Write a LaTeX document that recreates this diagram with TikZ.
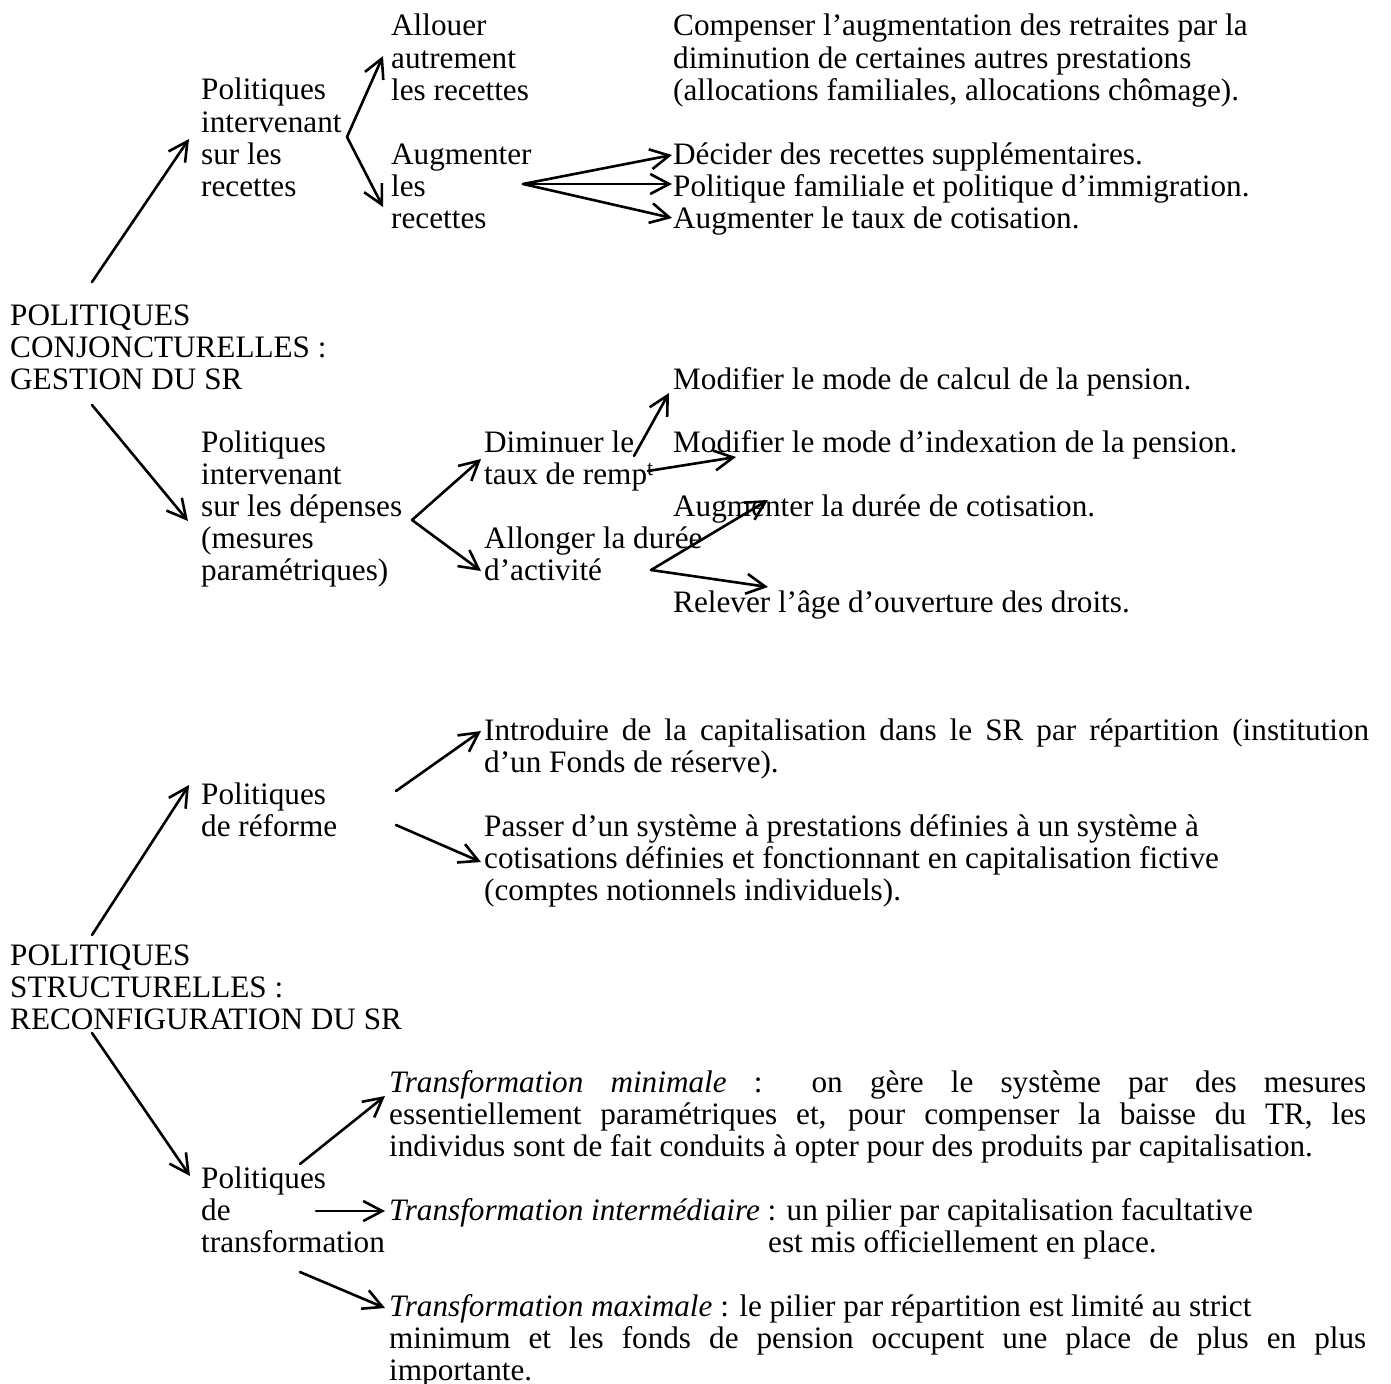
\documentclass[tikz,border=0pt]{standalone}
\usepackage{fontspec}
\setmainfont{Liberation Serif}
\usetikzlibrary{arrows.meta}
\setlength{\parindent}{0pt}
% one justified line stretched to a given width
\newcommand{\jline}[2]{\makebox[#1][s]{#2}}

\begin{document}
\begin{tikzpicture}[x=1pt,y=-1pt,
  % nodes are placed by the baseline of their last line
  txt/.style={anchor=base west, inner sep=0pt, align=left,
              font=\fontsize{31.2}{32.1}\selectfont},
  arr/.style={line width=2.6pt, line cap=round,
              -{Straight Barb[length=19pt,width=20pt,line width=2.6pt]}}]
\useasboundingbox (0,0) rectangle (1391,1383);

% ---- cyclical policies
\node[txt] (conj) at (10,389.2) {POLITIQUES\\CONJONCTURELLES :\\GESTION DU SR};
\node[txt] (prec) at (201,196.3) {Politiques\\intervenant\\sur les\\recettes};
\node[txt] (alloc) at (391,100.2) {Allouer\\autrement\\les recettes};
\node[txt] (augr) at (391,228.4) {Augmenter\\les\\recettes};
\node[txt] (comp) at (673,100.2) {Compenser l’augmentation des retraites par la\\diminution de certaines autres prestations\\(allocations familiales, allocations chômage).};
\node[txt] (dec) at (673,164.2) {Décider des recettes supplémentaires.};
\node[txt] (fam) at (673,196.3) {Politique familiale et politique d’immigration.};
\node[txt] (taux) at (673,228.4) {Augmenter le taux de cotisation.};
\node[txt] (calc) at (673,389) {Modifier le mode de calcul de la pension.};
\node[txt] (pdep) at (201,580.9) {Politiques\\intervenant\\sur les dépenses\\(mesures\\paramétriques)};
\node[txt] (dimi) at (484,484.6) {Diminuer le\\taux de remp\textsuperscript{t}};
\node[txt] (index) at (673,452.5) {Modifier le mode d’indexation de la pension.};
\node[txt] (duree) at (673,516.5) {Augmenter la durée de cotisation.};
\node[txt] (allong) at (484,580.6) {Allonger la durée\\d’activité};
\node[txt] (relev) at (673,612.5) {Relever l’âge d’ouverture des droits.};

% ---- structural policies
\node[txt] (intro) at (484,772.6) {\jline{885pt}{Introduire de la capitalisation dans le SR par répartition (institution}\\d’un Fonds de réserve).};
\node[txt] (pref) at (201,836.6) {Politiques\\de réforme};
\node[txt] (passer) at (484,900.7) {Passer d’un système à prestations définies à un système à\\cotisations définies et fonctionnant en capitalisation fictive\\(comptes notionnels individuels).};
\node[txt] (struct) at (10,1029.2) {POLITIQUES\\STRUCTURELLES :\\RECONFIGURATION DU SR};
\node[txt] (tmin) at (389,1156.2) {\jline{977pt}{\textit{Transformation minimale} : on gère le système par des mesures}\\\jline{977pt}{essentiellement paramétriques et, pour compenser la baisse du TR, les}\\individus sont de fait conduits à opter pour des produits par capitalisation.};
\node[txt] (tpol) at (201,1252.7) {Politiques\\de\\transformation};
\node[txt] (tint) at (389,1252.6) {\textit{Transformation intermédiaire} : un pilier par capitalisation facultative\\\hspace*{379pt}est mis officiellement en place.};
\node[txt] (tmax) at (389,1380.7) {\textit{Transformation maximale} : le pilier par répartition est limité au strict\\\jline{977pt}{minimum et les fonds de pension occupent une place de plus en plus}\\importante.};

% ---- connector ends
\coordinate (conj-up) at (92,282);
\coordinate (prec-in) at (189,139);
\coordinate (conj-down) at (92,405);
\coordinate (pdep-in) at (188,521);
\coordinate (prec-out) at (347,137);
\coordinate (alloc-in) at (383,56);
\coordinate (augr-in) at (383,207);
\coordinate (augr-out) at (523,184);
\coordinate (dec-in) at (672,155);
\coordinate (fam-in) at (672,184);
\coordinate (taux-in) at (672,218);
\coordinate (pdep-out) at (412,520);
\coordinate (dimi-in) at (481,459);
\coordinate (allong-in) at (481,571);
\coordinate (dimi-up) at (634,456);
\coordinate (calc-in) at (669,393);
\coordinate (dimi-right) at (648,471);
\coordinate (index-in) at (736,457);
\coordinate (allong-out) at (651,570);
\coordinate (duree-in) at (768,500);
\coordinate (relev-in) at (768,587);
\coordinate (pref-up) at (396,791);
\coordinate (intro-in) at (481,731);
\coordinate (pref-down) at (396,825);
\coordinate (passer-in) at (481,862);
\coordinate (struct-up) at (92,935);
\coordinate (pref-in) at (189,785);
\coordinate (struct-down) at (92,1033);
\coordinate (tpol-in) at (190,1176);
\coordinate (tpol-up) at (300,1164);
\coordinate (tmin-in) at (385,1096);
\coordinate (tpol-right) at (316,1211);
\coordinate (tint-in) at (385,1211);
\coordinate (tpol-down) at (300,1272);
\coordinate (tmax-in) at (385,1308);

% ---- connectors
\draw[arr] (conj-up) -- (prec-in);
\draw[arr] (conj-down) -- (pdep-in);
\draw[arr] (prec-out) -- (alloc-in);
\draw[arr] (prec-out) -- (augr-in);
\draw[arr] (augr-out) -- (dec-in);
\draw[arr] (augr-out) -- (fam-in);
\draw[arr] (augr-out) -- (taux-in);
\draw[arr] (pdep-out) -- (dimi-in);
\draw[arr] (pdep-out) -- (allong-in);
\draw[arr] (dimi-up) -- (calc-in);
\draw[arr] (dimi-right) -- (index-in);
\draw[arr] (allong-out) -- (duree-in);
\draw[arr] (allong-out) -- (relev-in);
\draw[arr] (pref-up) -- (intro-in);
\draw[arr] (pref-down) -- (passer-in);
\draw[arr] (struct-up) -- (pref-in);
\draw[arr] (struct-down) -- (tpol-in);
\draw[arr] (tpol-up) -- (tmin-in);
\draw[arr] (tpol-right) -- (tint-in);
\draw[arr] (tpol-down) -- (tmax-in);
\end{tikzpicture}
\end{document}
